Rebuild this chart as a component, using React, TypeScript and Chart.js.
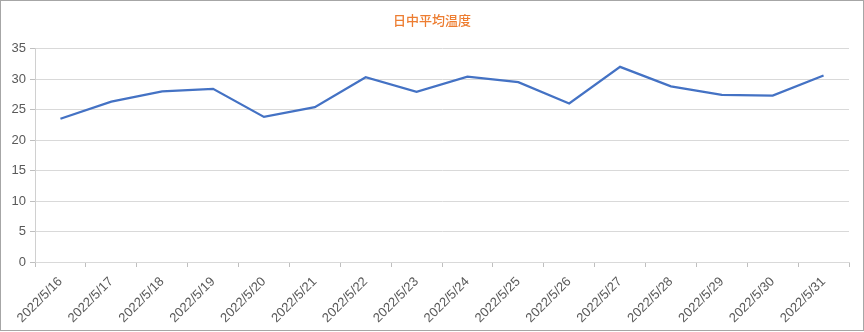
import React, { useEffect, useRef } from "react";
import { Chart, registerables } from "chart.js";

Chart.register(...registerables);

const titleText = "日中平均温度";
const categories = [
  "2022/5/16", "2022/5/17", "2022/5/18", "2022/5/19", "2022/5/20", "2022/5/21",
  "2022/5/22", "2022/5/23", "2022/5/24", "2022/5/25", "2022/5/26", "2022/5/27",
  "2022/5/28", "2022/5/29", "2022/5/30", "2022/5/31",
];
const temps = [23.5, 26.3, 28.0, 28.4, 23.8, 25.4, 30.3, 27.9, 30.4, 29.5, 26.0, 32.0, 28.8, 27.4, 27.3, 30.6];
const yTicks = [0, 5, 10, 15, 20, 25, 30, 35];

const W = 864;
const H = 332;

const frame = {
  id: "frame",
  afterDraw(chart: any) {
    const ctx = chart.ctx;
    ctx.save();
    ctx.strokeStyle = "#a6a6a6";
    ctx.lineWidth = 1;
    ctx.strokeRect(0.5, 0.5, W - 1, H - 2);
    ctx.restore();
  },
};

export default function App() {
  const ref = useRef<HTMLCanvasElement>(null);
  useEffect(() => {
    if (!ref.current) return;
    const chart = new Chart(ref.current, {
      type: "line",
      data: {
        labels: categories,
        datasets: [
          {
            label: titleText,
            data: temps,
            borderColor: "#4472C4",
            backgroundColor: "#4472C4",
            borderWidth: 2.25,
            pointRadius: 0,
            tension: 0,
            yAxisID: "y",
          },
        ],
      },
      options: {
        responsive: false,
        animation: false,
        devicePixelRatio: 1,
        layout: { padding: { left: 0, right: 0, top: 0, bottom: 0 } },
        plugins: {
          legend: { display: false },
          tooltip: { enabled: false },
          title: {
            display: true,
            text: titleText,
            color: "#ED7D31",
            font: { family: "'Noto Sans CJK JP', sans-serif", size: 13, weight: "500" },
            padding: { top: 12, bottom: 21 },
          },
        },
        scales: {
          x: {
            type: "category",
            offset: true,
            grid: {
              display: true,
              offset: true,
              drawOnChartArea: false,
              drawTicks: true,
              tickLength: 5,
              color: "#bfbfbf",
            },
            border: { display: true, color: "#d9d9d9" },
            ticks: {
              autoSkip: false,
              minRotation: 45,
              maxRotation: 45,
              padding: 7,
              color: "#595959",
              font: { family: "'Liberation Sans', sans-serif", size: 13 },
            },
            afterFit(scale: any) {
              scale.height = 70;
            },
          },
          y: {
            min: 0,
            max: 35,
            afterBuildTicks(scale: any) {
              scale.ticks = yTicks.map((v) => ({ value: v }));
            },
            grid: {
              color: "#d9d9d9",
              drawTicks: true,
              tickLength: 5,
              tickColor: "#bfbfbf",
            },
            border: { display: true, color: "#d0d0d0" },
            ticks: {
              padding: 4,
              color: "#595959",
              font: { family: "'Liberation Sans', sans-serif", size: 13 },
            },
            afterFit(scale: any) {
              scale.width = 35;
            },
          },
          yr: {
            position: "right",
            min: 0,
            max: 35,
            display: true,
            grid: { display: false, drawTicks: false },
            border: { display: false },
            ticks: { display: false },
            afterFit(scale: any) {
              scale.width = 15;
            },
          },
        },
      },
      plugins: [frame],
    });
    return () => chart.destroy();
  }, []);
  return (
    <div style={{ position: "absolute", left: 0, top: 0, width: W, height: H, background: "#fff" }}>
      <canvas ref={ref} width={W} height={H} style={{ display: "block", width: W, height: H }} />
    </div>
  );
}
